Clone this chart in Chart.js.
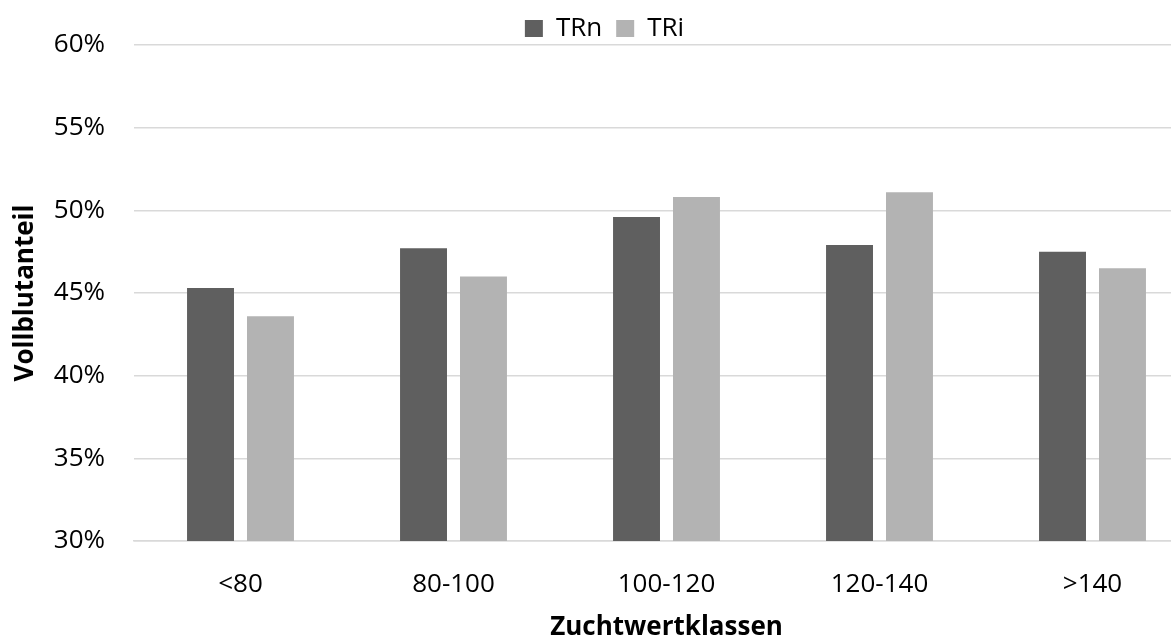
<!DOCTYPE html>
<html>
<head>
<meta charset="utf-8">
<script src="https://cdn.jsdelivr.net/npm/chart.js@4"></script>
<style>
  html, body { margin: 0; padding: 0; overflow: hidden; background: #fff; }
  #wrap { width: 1230px; height: 637px; }
</style>
</head>
<body>
<div id="wrap"><canvas id="chart" width="1230" height="637"></canvas></div>
<script>
// data
const categories = ['<80', '80-100', '100-120', '120-140', '>140'];
const trn = [45.3, 47.7, 49.6, 47.9, 47.5];
const tri = [43.6, 46.0, 50.8, 51.1, 46.5];
const yTicks = [30, 35, 40, 45, 50, 55, 60];

const font = "'Open Sans', 'Noto Sans', sans-serif";

// legend box is a bit too tall by default, trim its height so the plot starts right under it
const tightLegend = {
  id: 'tightLegend',
  beforeLayout(chart) {
    const lg = chart.legend;
    if (lg && !lg._tight) {
      const fit = lg.fit;
      lg.fit = function () { fit.call(this); this.height = 43.5; };
      lg._tight = true;
    }
  }
};

const ctx = document.getElementById('chart').getContext('2d');
new Chart(ctx, {
  type: 'bar',
  data: {
    labels: categories,
    datasets: [
      { label: 'TRn', data: trn, backgroundColor: '#5f5f5f' },
      { label: 'TRi', data: tri, backgroundColor: '#b3b3b3' }
    ]
  },
  plugins: [tightLegend],
  options: {
    responsive: false,
    animation: false,
    layout: { padding: { left: 10, right: 31, top: 1.5, bottom: 0 } },
    datasets: {
      bar: { categoryPercentage: 0.563, barPercentage: 0.783 }
    },
    plugins: {
      tooltip: { enabled: false },
      legend: {
        position: 'top',
        labels: {
          boxWidth: 18,
          boxHeight: 17,
          padding: 14,
          color: '#000',
          font: { family: font, size: 26 }
        }
      }
    },
    scales: {
      x: {
        grid: { display: false, drawTicks: false },
        border: { color: '#d9d9d9', width: 1.5 },
        ticks: { color: '#000', padding: 28, font: { family: font, size: 26 } },
        title: {
          display: true, text: 'Zuchtwertklassen', color: '#000',
          padding: 0,
          font: { family: font, size: 26, weight: 'bold', lineHeight: 0.75 }
        },
        afterFit: axis => { axis.height = 96; }
      },
      y: {
        min: 30,
        max: 60,
        afterBuildTicks: axis => { axis.ticks = yTicks.map(v => ({ value: v })); },
        grid: { color: '#d9d9d9', lineWidth: 1.5, drawTicks: false },
        border: { display: false },
        ticks: {
          color: '#000',
          padding: 29,
          font: { family: font, size: 26 },
          callback: v => v + '%'
        },
        title: {
          display: true, text: 'Vollblutanteil', color: '#000',
          padding: 0,
          font: { family: font, size: 26, weight: 'bold' }
        },
        afterFit: axis => { axis.width = 124; }
      }
    }
  }
});
</script>
</body>
</html>
